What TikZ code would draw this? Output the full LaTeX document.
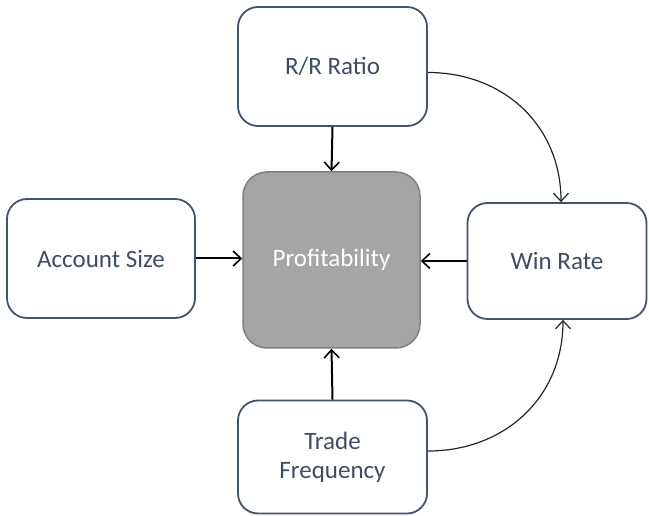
\documentclass[tikz,border=0pt]{standalone}
\usepackage{fontspec}
\setmainfont{Carlito}
\usetikzlibrary{arrows.meta}
\definecolor{boxline}{HTML}{44546A}
\definecolor{boxtext}{HTML}{3E4D63}
\definecolor{proffill}{HTML}{A5A5A5}
\definecolor{profline}{HTML}{7F7F7F}
\begin{document}
\begin{tikzpicture}[x=1pt,y=-1pt,
  box/.style={draw=boxline, line width=1.8pt, rounded corners=20pt, fill=white,
    text=boxtext, font=\fontsize{25}{29}\selectfont, align=center, inner sep=0pt},
  profbox/.style={draw=profline, line width=1.5pt, rounded corners=24pt, fill=proffill,
    text=white, font=\fontsize{25}{29}\selectfont, align=center, inner sep=0pt},
  arr/.style={draw=black, line width=2pt, -{Straight Barb[length=8pt,width=15pt,line width=1.6pt]}},
  carr/.style={draw=black!85, line width=1.2pt, -{Straight Barb[length=8pt,width=15pt,line width=1.2pt]}}
]
\useasboundingbox (0,0) rectangle (649,516);
\node[box, minimum width=189pt, minimum height=119pt] (rr) at (332.5,66.5) {R/R Ratio};
\node[box, minimum width=188pt, minimum height=119pt] (acc) at (101,258.5) {Account Size};
\node[profbox, minimum width=177pt, minimum height=176pt] (prof) at (331.5,260) {Profitability};
\node[box, minimum width=179pt, minimum height=116pt] (win) at (557,261) {Win Rate};
\node[box, minimum width=189pt, minimum height=113pt] (tf) at (332.5,457) {Trade\\Frequency};

\draw[arr] (rr.south) -- (prof.north);
\draw[arr] (acc.east) -- (acc.east -| prof.west);
\draw[arr] (win.west) -- (win.west -| prof.east);
\draw[arr] (tf.north) -- (prof.south);

\coordinate (rrout) at ([yshift=-6pt]rr.east);
\coordinate (winin) at ([xshift=4pt]win.north);
\coordinate (tfout) at ([yshift=6pt]tf.east);
\coordinate (winbot) at ([xshift=6pt]win.south);
\draw[carr] (rrout) to[out=0,in=90,looseness=1.05] (winin);
\draw[carr] (tfout) to[out=0,in=-90,looseness=1.05] (winbot);
\end{tikzpicture}
\end{document}
